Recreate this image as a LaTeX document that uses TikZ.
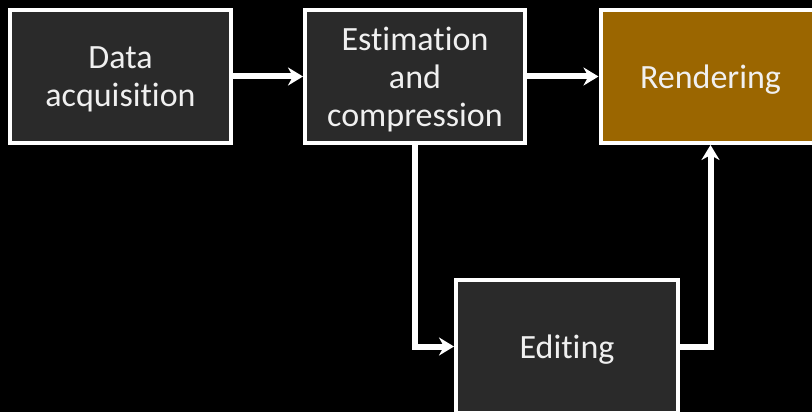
\documentclass[tikz,border=0pt]{standalone}
\usepackage{fontspec}
\setmainfont{Carlito}[Ligatures=NoCommon]
\usepackage{xcolor}
\usepackage{tikz}
\usetikzlibrary{positioning,arrows.meta}
\definecolor{boxgray}{RGB}{42,42,42}
\definecolor{renderbrown}{RGB}{155,102,0}

\begin{document}
\begin{tikzpicture}[x=1pt,y=-1pt,
    stage/.style={draw=white, line width=4pt, fill=boxgray, text=white!94!black,
        align=center, minimum height=133pt, inner sep=0pt, text depth=0pt,
        font=\fontsize{34}{38}\selectfont},
    flow/.style={draw=white, line width=6pt, -{Stealth[length=15pt,width=18pt]}}]
    \fill[black] (0,0) rectangle (812,412);
    \useasboundingbox (0,0) rectangle (812,412);
    \clip (0,0) rectangle (812,412);

    \node[stage, minimum width=221pt] (acq) at (120.5,76.5) {Data\\acquisition};
    \node[stage, minimum width=220pt] (est) at (415,76.5) {Estimation\\and\\compression};
    \node[stage, minimum width=220pt, fill=renderbrown] (ren) at (710.5,76.5) {Rendering};
    \node[stage, minimum width=222pt] (edit) at (567,346.5) {Editing};

    \draw[flow] (acq) -- (est);
    \draw[flow] (est) -- (ren);
    \draw[flow] (est.south) |- (edit.west);
    \draw[flow] (edit.east) -| (ren.south);
\end{tikzpicture}
\end{document}
